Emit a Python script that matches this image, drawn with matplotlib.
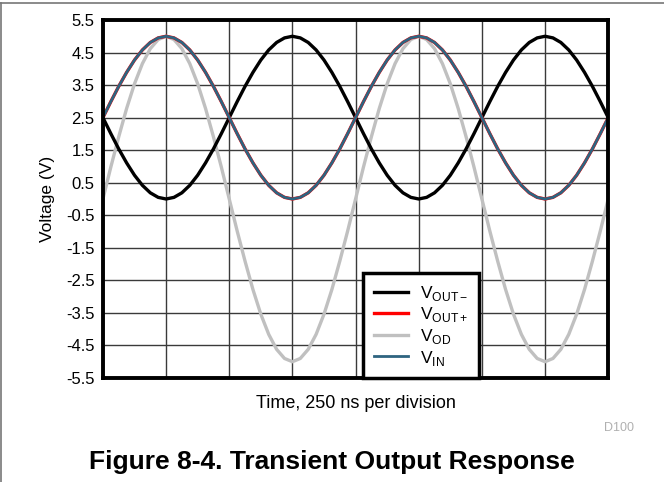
import numpy as np
import matplotlib
matplotlib.use('Agg')
import matplotlib.pyplot as plt
from matplotlib.lines import Line2D

plt.rcParams['font.family'] = ['Liberation Sans', 'DejaVu Sans']
plt.rcParams['mathtext.fontset'] = 'custom'
plt.rcParams['mathtext.rm'] = 'Liberation Sans'

# samples every 1/8 division (31.25 ns), two full periods
time_ns = np.arange(65) * 31.25

v_out_plus = [2.50, 2.99, 3.46, 3.89, 4.27, 4.58, 4.81, 4.95, 5.00,
              4.95, 4.81, 4.58, 4.27, 3.89, 3.46, 2.99, 2.50,
              2.01, 1.54, 1.11, 0.73, 0.42, 0.19, 0.05, 0.00,
              0.05, 0.19, 0.42, 0.73, 1.11, 1.54, 2.01,
              2.50, 2.99, 3.46, 3.89, 4.27, 4.58, 4.81, 4.95, 5.00,
              4.95, 4.81, 4.58, 4.27, 3.89, 3.46, 2.99, 2.50,
              2.01, 1.54, 1.11, 0.73, 0.42, 0.19, 0.05, 0.00,
              0.05, 0.19, 0.42, 0.73, 1.11, 1.54, 2.01, 2.50]

v_out_minus = [2.50, 2.01, 1.54, 1.11, 0.73, 0.42, 0.19, 0.05, 0.00,
               0.05, 0.19, 0.42, 0.73, 1.11, 1.54, 2.01, 2.50,
               2.99, 3.46, 3.89, 4.27, 4.58, 4.81, 4.95, 5.00,
               4.95, 4.81, 4.58, 4.27, 3.89, 3.46, 2.99,
               2.50, 2.01, 1.54, 1.11, 0.73, 0.42, 0.19, 0.05, 0.00,
               0.05, 0.19, 0.42, 0.73, 1.11, 1.54, 2.01, 2.50,
               2.99, 3.46, 3.89, 4.27, 4.58, 4.81, 4.95, 5.00,
               4.95, 4.81, 4.58, 4.27, 3.89, 3.46, 2.99, 2.50]

v_od = [0.00, 0.98, 1.91, 2.78, 3.54, 4.16, 4.62, 4.90, 5.00,
        4.90, 4.62, 4.16, 3.54, 2.78, 1.91, 0.98, 0.00,
        -0.98, -1.91, -2.78, -3.54, -4.16, -4.62, -4.90, -5.00,
        -4.90, -4.62, -4.16, -3.54, -2.78, -1.91, -0.98,
        0.00, 0.98, 1.91, 2.78, 3.54, 4.16, 4.62, 4.90, 5.00,
        4.90, 4.62, 4.16, 3.54, 2.78, 1.91, 0.98, 0.00,
        -0.98, -1.91, -2.78, -3.54, -4.16, -4.62, -4.90, -5.00,
        -4.90, -4.62, -4.16, -3.54, -2.78, -1.91, -0.98, 0.00]

v_in = list(v_out_plus)

y_ticks = [5.5, 4.5, 3.5, 2.5, 1.5, 0.5, -0.5, -1.5, -2.5, -3.5, -4.5, -5.5]
x_ticks = [0, 250, 500, 750, 1000, 1250, 1500, 1750, 2000]

fig = plt.figure(figsize=(6.64, 4.82), dpi=100)
ax = fig.add_axes([0.155, 0.2158, 0.761, 0.7427])

ax.set_xlim(0, 2000)
ax.set_ylim(-5.5, 5.5)
ax.set_xticks(x_ticks)
ax.set_xticklabels([])
ax.set_yticks(y_ticks)
ax.set_yticklabels([str(v) for v in y_ticks], fontsize=12)
ax.tick_params(length=0, pad=6)
ax.grid(True, color='#3a3a3a', linewidth=1)
ax.set_axisbelow(True)
for s in ax.spines.values():
    s.set_linewidth(2.8)

ax.plot(time_ns, v_od, color='#c0c0c0', lw=2.4, label=r'V$_{\mathregular{OD}}$')
ax.plot(time_ns, v_out_minus, color='black', lw=2.4,
        label='V$_{\\mathregular{OUT\u2212}}$')
ax.plot(time_ns, v_out_plus, color='#ff0000', lw=2.4, label=r'V$_{\mathregular{OUT+}}$')
ax.plot(time_ns, v_in, color='#2e6480', lw=2.0, label=r'V$_{\mathregular{IN}}$')

h, l = ax.get_legend_handles_labels()
order = [1, 2, 0, 3]
leg = ax.legend([h[i] for i in order], [l[i] for i in order],
                loc='lower left', bbox_to_anchor=(0.515, 0.0),
                borderaxespad=0, fontsize=12.5, fancybox=False,
                framealpha=1, edgecolor='black', handlelength=2.0,
                labelspacing=0.15, borderpad=0.6, handletextpad=0.7)
leg.get_frame().set_linewidth(2.5)

ax.set_ylabel('Voltage (V)', fontsize=12.5, labelpad=8)
ax.set_xlabel('Time, 250 ns per division', fontsize=13, labelpad=6)

fig.text(0.932, 0.112, 'D100', fontsize=9, color='#b0b0b0',
         ha='center', va='center')
fig.text(0.5, 0.0415, 'Figure 8-4. Transient Output Response',
         fontsize=19, fontweight='bold', ha='center', va='center')

fig.add_artist(Line2D([0, 1], [0.994, 0.994], color='#777777', lw=1.2))
fig.add_artist(Line2D([0.002, 0.002], [0, 0.994], color='#777777', lw=1.2))

fig.savefig('out.png', dpi=100)
